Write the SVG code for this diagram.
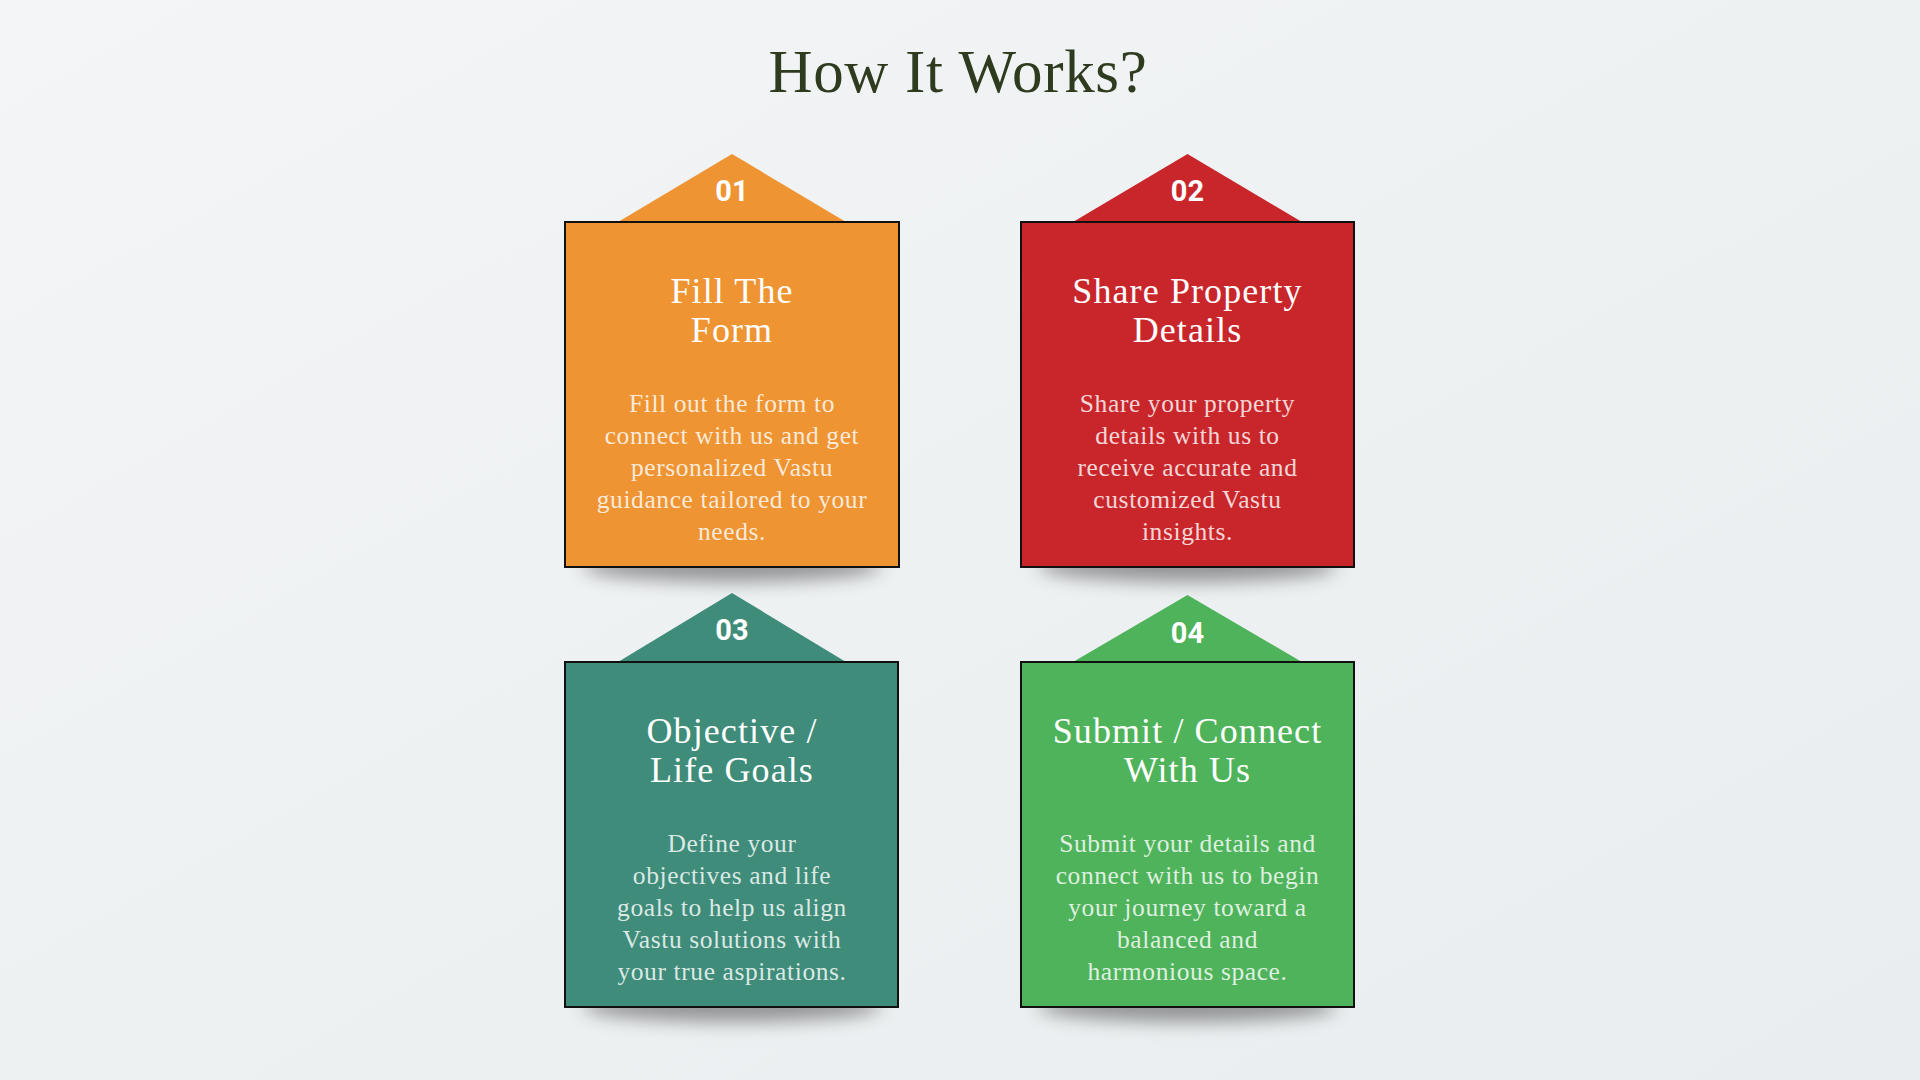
<svg xmlns="http://www.w3.org/2000/svg" width="1920" height="1080" viewBox="0 0 1920 1080">
  <defs>
    <filter id="soft" x="-30%" y="-200%" width="160%" height="500%">
      <feGaussianBlur stdDeviation="9"/>
    </filter>
    <linearGradient id="bg" x1="0" y1="0" x2="1" y2="1">
      <stop offset="0" stop-color="#f3f5f6"/>
      <stop offset="1" stop-color="#e9edef"/>
    </linearGradient>
    <style>
      .title { font-family: "Liberation Serif", "DejaVu Serif", serif; font-size: 61px; letter-spacing: 0.7px; fill: #2f3b1f; text-anchor: middle; }
      .num { font-family: Roboto, "Liberation Sans", sans-serif; font-weight: bold; font-size: 29px; fill: #ffffff; text-anchor: middle; }
      .head { font-family: "Liberation Serif", "DejaVu Serif", serif; font-size: 36px; letter-spacing: 1.1px; fill: #ffffff; text-anchor: middle; }
      .body { font-family: "Liberation Serif", "DejaVu Serif", serif; font-size: 25.5px; letter-spacing: 0.6px; fill: #ffffff; fill-opacity: 0.82; text-anchor: middle; }
      .box { stroke: #111111; stroke-width: 2; }
      .shadow { fill: #000000; fill-opacity: 0.38; filter: url(#soft); }
      .orange { fill: #ee9432; }
      .red { fill: #c9262b; }
      .teal { fill: #3e8c79; }
      .green { fill: #4fb35b; }
    </style>
  </defs>

  <rect x="0" y="0" width="1920" height="1080" fill="url(#bg)"/>

  <text id="title" class="title" x="958" y="92">How It Works?</text>

  <g id="connectors"/>

  <g id="step-01">
    <ellipse class="shadow" cx="732" cy="566" rx="150" ry="16"/>
    <polygon class="orange" points="732,154 846,222 618,222"/>
    <rect class="box orange" x="565" y="222" width="334" height="345"/>
    <text class="num" x="732" y="201">01</text>
    <text class="head" x="732" y="303">Fill The</text>
    <text class="head" x="732" y="342">Form</text>
    <text class="body" x="732" y="412">Fill out the form to</text>
    <text class="body" x="732" y="444">connect with us and get</text>
    <text class="body" x="732" y="476">personalized Vastu</text>
    <text class="body" x="732" y="508">guidance tailored to your</text>
    <text class="body" x="732" y="540">needs.</text>
  </g>

  <g id="step-02">
    <ellipse class="shadow" cx="1187.5" cy="566" rx="150" ry="16"/>
    <polygon class="red" points="1187.5,154 1302,222 1073,222"/>
    <rect class="box red" x="1021" y="222" width="333" height="345"/>
    <text class="num" x="1187.5" y="201">02</text>
    <text class="head" x="1187.5" y="303">Share Property</text>
    <text class="head" x="1187.5" y="342">Details</text>
    <text class="body" x="1187.5" y="412">Share your property</text>
    <text class="body" x="1187.5" y="444">details with us to</text>
    <text class="body" x="1187.5" y="476">receive accurate and</text>
    <text class="body" x="1187.5" y="508">customized Vastu</text>
    <text class="body" x="1187.5" y="540">insights.</text>
  </g>

  <g id="step-03">
    <ellipse class="shadow" cx="732" cy="1006" rx="150" ry="16"/>
    <polygon class="teal" points="732,593 846,662 618,662"/>
    <rect class="box teal" x="565" y="662" width="333" height="345"/>
    <text class="num" x="732" y="640">03</text>
    <text class="head" x="732" y="743">Objective /</text>
    <text class="head" x="732" y="782">Life Goals</text>
    <text class="body" x="732" y="852">Define your</text>
    <text class="body" x="732" y="884">objectives and life</text>
    <text class="body" x="732" y="916">goals to help us align</text>
    <text class="body" x="732" y="948">Vastu solutions with</text>
    <text class="body" x="732" y="980">your true aspirations.</text>
  </g>

  <g id="step-04">
    <ellipse class="shadow" cx="1187.5" cy="1006" rx="150" ry="16"/>
    <polygon class="green" points="1187.5,595 1302,662 1073,662"/>
    <rect class="box green" x="1021" y="662" width="333" height="345"/>
    <text class="num" x="1187.5" y="643">04</text>
    <text class="head" x="1187.5" y="743">Submit / Connect</text>
    <text class="head" x="1187.5" y="782">With Us</text>
    <text class="body" x="1187.5" y="852">Submit your details and</text>
    <text class="body" x="1187.5" y="884">connect with us to begin</text>
    <text class="body" x="1187.5" y="916">your journey toward a</text>
    <text class="body" x="1187.5" y="948">balanced and</text>
    <text class="body" x="1187.5" y="980">harmonious space.</text>
  </g>
</svg>
